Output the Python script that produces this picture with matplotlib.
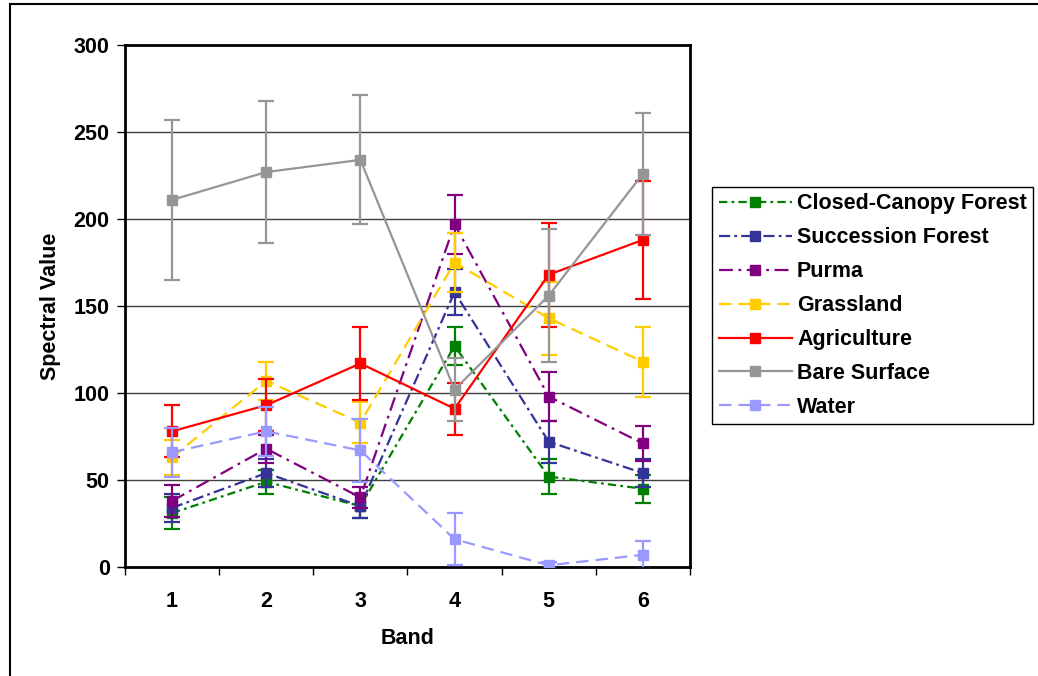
import matplotlib.pyplot as plt
from matplotlib.lines import Line2D

plt.rcParams['font.family'] = ['Liberation Sans', 'DejaVu Sans']
plt.rcParams['font.weight'] = 'bold'
plt.rcParams['lines.scale_dashes'] = False

bands = [1, 2, 3, 4, 5, 6]

closed_canopy = [31, 49, 35, 127, 52, 45]
closed_canopy_err = [9, 7, 7, 11, 10, 8]
succession = [34, 54, 35, 158, 72, 54]
succession_err = [8, 8, 7, 13, 12, 8]
purma = [38, 68, 40, 197, 98, 71]
purma_err = [9, 8, 6, 17, 14, 10]
grassland = [63, 107, 83, 175, 143, 118]
grassland_err = [10, 11, 12, 17, 21, 20]
agriculture = [78, 93, 117, 91, 168, 188]
agriculture_err = [15, 15, 21, 15, 30, 34]
bare_surface = [211, 227, 234, 102, 156, 226]
bare_surface_err = [46, 41, 37, 18, 38, 35]
water = [66, 78, 67, 16, 1, 7]
water_err = [14, 14, 18, 15, 2, 8]

series = [
    ('Closed-Canopy Forest', closed_canopy, closed_canopy_err, '#008000', (0, (6, 3, 2, 3))),
    ('Succession Forest', succession, succession_err, '#333399', (0, (8, 3, 2, 3))),
    ('Purma', purma, purma_err, '#800080', (0, (10, 4, 2, 4))),
    ('Grassland', grassland, grassland_err, '#FFCC00', (0, (9, 5))),
    ('Agriculture', agriculture, agriculture_err, '#FF0000', '-'),
    ('Bare Surface', bare_surface, bare_surface_err, '#969696', '-'),
    ('Water', water, water_err, '#9999FF', (0, (9, 5))),
]

fs = 15.5

fig = plt.figure(figsize=(10.38, 6.76), dpi=100)
ax = fig.add_axes([0.1204, 0.1612, 0.5443, 0.7722])

handles = []
for i, (name, vals, err, color, ls) in enumerate(series):
    ax.errorbar(bands, vals, yerr=err, fmt='none', ecolor=color, elinewidth=1.6,
                capsize=5.5, capthick=1.6, zorder=3 + 2 * i)
    line, = ax.plot(bands, vals, color=color, linestyle=ls, linewidth=1.6,
                    marker='s', markersize=6.5, zorder=4 + 2 * i, label=name)
    handles.append(line)

ax.set_xlim(0.5, 6.5)
ax.set_ylim(0, 300)
ax.set_yticks(range(0, 301, 50))
ax.set_xticks(bands)
ax.set_xticks([b - 0.5 for b in bands] + [6.5], minor=True)
ax.tick_params(axis='x', which='major', length=0, pad=17, labelsize=fs)
ax.tick_params(axis='x', which='minor', length=6, width=1, direction='out')
ax.tick_params(axis='y', length=6, width=1, pad=5, labelsize=fs)
ax.grid(axis='y', color='#404040', linewidth=1)
ax.set_axisbelow(True)
for s in ax.spines.values():
    s.set_linewidth(2)
    s.set_color('black')

ax.set_xlabel('Band', fontsize=fs, fontweight='bold', labelpad=12)
ax.set_ylabel('Spectral Value', fontsize=fs, fontweight='bold', labelpad=9)

leg = fig.legend(handles=handles, loc='upper left', bbox_to_anchor=(0.686, 0.7234),
                 borderaxespad=0, fontsize=fs, handlelength=3.4, numpoints=1,
                 labelspacing=0.6, borderpad=0.3, handletextpad=0.25,
                 fancybox=False, framealpha=1, edgecolor='black')
leg.get_frame().set_linewidth(1)

# outer chart frame
fig.add_artist(Line2D([0.0096, 0.0096], [0, 0.994], color='black', linewidth=1.5))
fig.add_artist(Line2D([0.0096, 1.0], [0.994, 0.994], color='black', linewidth=1.5))

fig.savefig('out.png', dpi=100)
